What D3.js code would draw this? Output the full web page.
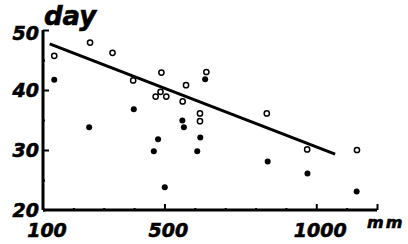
<!DOCTYPE html>
<html>
<head>
<meta charset="utf-8">
<script src="https://cdn.jsdelivr.net/npm/d3@7"></script>
<style>
  body { margin: 0; background: #fff; }
  text { font-family: "DejaVu Sans", sans-serif; font-weight: bold; font-style: italic; fill: #000; stroke: #000; stroke-width: 0.6; }
</style>
</head>
<body>
<div id="chart"></div>
<script>
// Open circles (x in mm, y in days)
var openX = [137, 255, 329, 397, 471, 487, 506, 490, 560, 571, 617, 617, 638, 837, 970, 1134];
var openY = [45.7, 47.9, 46.2, 41.6, 38.9, 39.7, 38.9, 42.9, 38.1, 40.8, 36.1, 34.8, 43.0, 36.1, 30.1, 30.0];

// Filled circles
var filledX = [137, 252, 399, 465, 479, 501, 559, 564, 608, 618, 634, 840, 971, 1133];
var filledY = [41.7, 33.8, 36.8, 29.8, 31.8, 23.8, 34.9, 33.8, 29.8, 32.1, 41.8, 28.1, 26.1, 23.1];

// Trend line end points
var lineX = [122, 1062];
var lineY = [47.7, 29.3];

var xTicks = [100, 500, 1000];
var yTicks = [20, 30, 40, 50];

var svgWidth = 408;
var svgHeight = 244;

var svg = d3.select("#chart")
            .append("svg")
            .attr("width", svgWidth)
            .attr("height", svgHeight);

var x = d3.scaleLinear().domain([100, 1200]).range([43, 377]);
var y = d3.scaleLinear().domain([20, 50]).range([210, 30]);

// Axes (ticks point inwards)
var bottomAxis = d3.axisBottom(x)
    .tickValues(d3.range(100, 1201, 100))
    .tickSize(-2)
    .tickFormat("");
var xAxis = svg.append("g")
    .attr("transform", `translate(0,${y(20)})`)
    .call(bottomAxis);

var leftAxis = d3.axisLeft(y)
    .tickValues(d3.range(20, 51, 5))
    .tickSize(-2)
    .tickFormat("");
var yAxis = svg.append("g")
    .attr("transform", `translate(${x(100)},0)`)
    .call(leftAxis);

[xAxis, yAxis].forEach(function(a) {
    a.select(".domain").attr("stroke", "#000").attr("stroke-width", 3);
    a.selectAll(".tick line").attr("stroke", "#000").attr("stroke-width", 2);
});

// longer major ticks
xAxis.selectAll(".tick line")
    .filter(d => d === 500 || d === 1000 || d === 1200)
    .attr("y2", -6);
yAxis.selectAll(".tick line")
    .filter(d => d === 30 || d === 40 || d === 50)
    .attr("x2", 6);
xAxis.select(".domain").attr("d", `M${x(100)},0H${x(1200)}`);
yAxis.select(".domain").attr("d", `M0,${y(20)}V${y(50)}`);

// Tick labels
svg.selectAll(".ylab")
    .data(yTicks)
    .enter()
    .append("text")
    .attr("class", "ylab")
    .attr("x", 39)
    .attr("y", d => y(d) + (d === 50 ? 3 : 0))
    .attr("dy", "0.36em")
    .attr("text-anchor", "end")
    .attr("font-size", 19)
    .text(d => d);

svg.selectAll(".xlab")
    .data(xTicks)
    .enter()
    .append("text")
    .attr("class", "xlab")
    .attr("x", d => x(d) + 4)
    .attr("y", 237)
    .attr("text-anchor", "middle")
    .attr("font-size", 19)
    .text(d => d);

svg.append("text")
    .attr("x", 367)
    .attr("y", 228)
    .attr("font-size", 16)
    .attr("letter-spacing", 2)
    .text("mm");

svg.append("text")
    .attr("x", 44)
    .attr("y", 25)
    .attr("font-size", 26)
    .text("day");

// Trend line
svg.append("line")
    .attr("x1", x(lineX[0]))
    .attr("y1", y(lineY[0]))
    .attr("x2", x(lineX[1]))
    .attr("y2", y(lineY[1]))
    .attr("stroke", "#000")
    .attr("stroke-width", 3);

// Points
svg.selectAll(".open")
    .data(openX)
    .enter()
    .append("circle")
    .attr("class", "open")
    .attr("cx", d => x(d))
    .attr("cy", (d, i) => y(openY[i]))
    .attr("r", 2.6)
    .attr("fill", "#fff")
    .attr("stroke", "#000")
    .attr("stroke-width", 1.5);

svg.selectAll(".filled")
    .data(filledX)
    .enter()
    .append("circle")
    .attr("class", "filled")
    .attr("cx", d => x(d))
    .attr("cy", (d, i) => y(filledY[i]))
    .attr("r", 3)
    .attr("fill", "#000");
</script>
</body>
</html>
